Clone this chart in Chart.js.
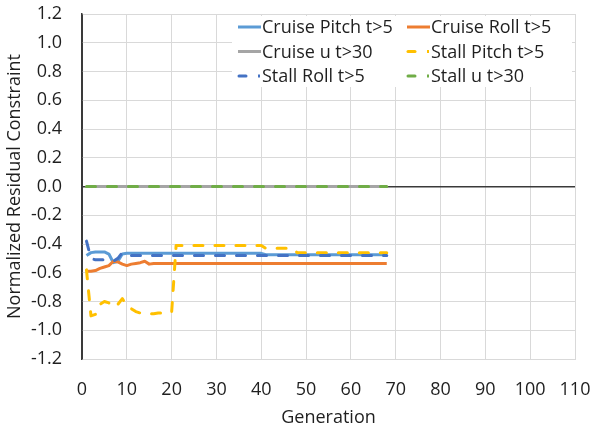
<!DOCTYPE html>
<html>
<head>
<meta charset="utf-8">
<script src="https://cdn.jsdelivr.net/npm/chart.js@4.4.1/dist/chart.umd.min.js"></script>
<style>
  html, body { margin: 0; padding: 0; background: #fff; }
  #wrap { width: 592px; height: 431px; }
</style>
</head>
<body>
<div id="wrap"><canvas id="mainChart" width="592" height="431"></canvas></div>
<script>
// ======================
// DATA
// ======================
const generations = [
  1, 2, 3, 4, 5, 6, 7, 8, 9, 10, 11, 12, 13, 14, 15, 16, 17, 18, 19, 20,
  21, 22, 23, 24, 25, 26, 27, 28, 29, 30, 31, 32, 33, 34, 35, 36, 37, 38, 39, 40,
  41, 42, 43, 44, 45, 46, 47, 48, 49, 50, 51, 52, 53, 54, 55, 56, 57, 58, 59, 60,
  61, 62, 63, 64, 65, 66, 67, 68
];

const seriesNames = [
  'Cruise Pitch t>5', 'Cruise Roll t>5', 'Cruise u t>30',
  'Stall Pitch t>5', 'Stall Roll t>5', 'Stall u t>30'
];

const cruisePitch = [
  -0.48, -0.46, -0.455, -0.455, -0.455, -0.47, -0.53, -0.52, -0.47, -0.465,
  -0.465, -0.465, -0.465, -0.465, -0.465, -0.465, -0.465, -0.465, -0.465, -0.465,
  -0.465, -0.465, -0.465, -0.465, -0.465, -0.465, -0.465, -0.465, -0.465, -0.465,
  -0.465, -0.465, -0.465, -0.465, -0.465, -0.465, -0.465, -0.465, -0.465, -0.465,
  -0.475, -0.475, -0.475, -0.475, -0.475, -0.475, -0.475, -0.475, -0.475, -0.475,
  -0.475, -0.475, -0.475, -0.475, -0.475, -0.475, -0.475, -0.475, -0.475, -0.475,
  -0.475, -0.475, -0.475, -0.475, -0.475, -0.475, -0.475, -0.475
];

const cruiseRoll = [
  -0.59, -0.59, -0.585, -0.57, -0.56, -0.55, -0.52, -0.525, -0.54, -0.55,
  -0.54, -0.535, -0.53, -0.52, -0.54, -0.535, -0.535, -0.535, -0.535, -0.535,
  -0.535, -0.535, -0.535, -0.535, -0.535, -0.535, -0.535, -0.535, -0.535, -0.535,
  -0.535, -0.535, -0.535, -0.535, -0.535, -0.535, -0.535, -0.535, -0.535, -0.535,
  -0.535, -0.535, -0.535, -0.535, -0.535, -0.535, -0.535, -0.535, -0.535, -0.535,
  -0.535, -0.535, -0.535, -0.535, -0.535, -0.535, -0.535, -0.535, -0.535, -0.535,
  -0.535, -0.535, -0.535, -0.535, -0.535, -0.535, -0.535, -0.535
];

const cruiseU = [
  0, 0, 0, 0, 0, 0, 0, 0, 0, 0, 0, 0, 0, 0, 0, 0, 0, 0, 0, 0,
  0, 0, 0, 0, 0, 0, 0, 0, 0, 0, 0, 0, 0, 0, 0, 0, 0, 0, 0, 0,
  0, 0, 0, 0, 0, 0, 0, 0, 0, 0, 0, 0, 0, 0, 0, 0, 0, 0, 0, 0,
  0, 0, 0, 0, 0, 0, 0, 0
];

const stallPitch = [
  -0.58, -0.90, -0.89, -0.82, -0.80, -0.81, -0.84, -0.82, -0.78, -0.83,
  -0.85, -0.87, -0.88, -0.88, -0.885, -0.885, -0.88, -0.88, -0.875, -0.875,
  -0.41, -0.41, -0.41, -0.41, -0.41, -0.41, -0.41, -0.41, -0.41, -0.41,
  -0.41, -0.41, -0.41, -0.41, -0.41, -0.41, -0.41, -0.41, -0.41, -0.41,
  -0.43, -0.43, -0.43, -0.43, -0.43, -0.43, -0.43, -0.46, -0.46, -0.46,
  -0.46, -0.46, -0.46, -0.46, -0.46, -0.46, -0.46, -0.46, -0.46, -0.46,
  -0.46, -0.46, -0.46, -0.46, -0.46, -0.46, -0.46, -0.46
];

const stallRoll = [
  -0.38, -0.50, -0.51, -0.51, -0.51, -0.51, -0.52, -0.50, -0.46, -0.475,
  -0.48, -0.48, -0.48, -0.48, -0.48, -0.48, -0.48, -0.48, -0.48, -0.48,
  -0.48, -0.48, -0.48, -0.48, -0.48, -0.48, -0.48, -0.48, -0.48, -0.48,
  -0.48, -0.48, -0.48, -0.48, -0.48, -0.48, -0.48, -0.48, -0.48, -0.48,
  -0.48, -0.48, -0.48, -0.48, -0.48, -0.48, -0.48, -0.48, -0.48, -0.48,
  -0.48, -0.48, -0.48, -0.48, -0.48, -0.48, -0.48, -0.48, -0.48, -0.48,
  -0.48, -0.48, -0.48, -0.48, -0.48, -0.48, -0.48, -0.48
];

const stallU = [
  0, 0, 0, 0, 0, 0, 0, 0, 0, 0, 0, 0, 0, 0, 0, 0, 0, 0, 0, 0,
  0, 0, 0, 0, 0, 0, 0, 0, 0, 0, 0, 0, 0, 0, 0, 0, 0, 0, 0, 0,
  0, 0, 0, 0, 0, 0, 0, 0, 0, 0, 0, 0, 0, 0, 0, 0, 0, 0, 0, 0,
  0, 0, 0, 0, 0, 0, 0, 0
];

// ======================
// STYLE
// ======================
const FONT = '"Open Sans"';
const FSIZE = 18;
const TEXT = '#1f1f1f';
const GRID = '#d9d9d9';
const AXIS = '#3a3a3a';

const colors = ['#5b9bd5', '#ed7d31', '#a5a5a5', '#ffc000', '#4472c4', '#70ad47'];
const dashed = [false, false, false, true, true, true];

function toPoints(values) {
  return values.map((v, i) => ({ x: generations[i], y: v }));
}

const allValues = [cruisePitch, cruiseRoll, cruiseU, stallPitch, stallRoll, stallU];

const datasets = allValues.map((vals, i) => ({
  label: seriesNames[i],
  data: toPoints(vals),
  borderColor: colors[i],
  borderWidth: 3,
  borderDash: dashed[i] ? [9, 12] : [],
  borderCapStyle: dashed[i] ? 'round' : 'butt',
  borderJoinStyle: 'round',
  pointRadius: 0,
  tension: 0,
  fill: false,
  order: allValues.length - i   // later series on top, like Excel
}));

// ======================
// LEGEND INSIDE PLOT
// ======================
const insideLegend = {
  id: 'insideLegend',
  afterDatasetsDraw(chart) {
    const ctx = chart.ctx;
    const area = chart.chartArea;
    const boxX = area.right - 343;
    const boxY = area.top + 2;

    ctx.save();
    ctx.fillStyle = '#fff';
    ctx.fillRect(boxX, boxY, 340, 71);

    ctx.font = FSIZE + 'px ' + FONT;
    ctx.textBaseline = 'middle';

    chart.data.datasets.forEach((ds, i) => {
      const col = i % 2;
      const row = Math.floor(i / 2);
      const sx = boxX + 6 + col * 169;
      const sy = boxY + 11 + row * 24.5;

      ctx.strokeStyle = ds.borderColor;
      ctx.lineWidth = 3;
      ctx.setLineDash([]);
      if (dashed[i]) {
        ctx.lineCap = 'round';
        ctx.beginPath();
        ctx.moveTo(sx + 1, sy);
        ctx.lineTo(sx + 8, sy);
        ctx.stroke();
        ctx.fillStyle = ds.borderColor;
        ctx.fillRect(sx + 20, sy - 1.5, 2, 3);
      } else {
        ctx.lineCap = 'butt';
        ctx.beginPath();
        ctx.moveTo(sx, sy);
        ctx.lineTo(sx + 23, sy);
        ctx.stroke();
      }
      ctx.fillStyle = TEXT;
      ctx.fillText(ds.label, sx + 24, sy + 1);
    });
    ctx.restore();
  }
};

// ======================
// CHART
// ======================
const isZero = v => Math.abs(v) < 1e-9;

new Chart(document.getElementById('mainChart'), {
  type: 'line',
  data: { datasets },
  plugins: [insideLegend],
  options: {
    responsive: false,
    animation: false,
    layout: { padding: { top: 14, right: 17, left: 0, bottom: 0 } },
    plugins: {
      legend: { display: false },
      tooltip: { enabled: false }
    },
    scales: {
      x: {
        type: 'linear',
        min: 0,
        max: 110,
        ticks: {
          stepSize: 10,
          autoSkip: false,
          maxRotation: 0,
          padding: 20,
          color: TEXT,
          font: { family: FONT, size: FSIZE }
        },
        grid: {
          color: ctx => isZero(ctx.tick.value) ? AXIS : GRID,
          drawTicks: false
        },
        border: { color: GRID },
        title: {
          display: true,
          text: 'Generation',
          color: TEXT,
          font: { family: FONT, size: FSIZE },
          padding: 2
        },
        afterFit: s => {
          s.height = 72;
          s.paddingLeft = 0;
          s.paddingRight = 0;
        }
      },
      y: {
        min: -1.2,
        max: 1.2,
        ticks: {
          stepSize: 0.2,
          autoSkip: false,
          padding: 20,
          color: TEXT,
          font: { family: FONT, size: FSIZE },
          callback: v => isZero(v) ? '0.0' : Number(v).toFixed(1)
        },
        grid: {
          color: ctx => isZero(ctx.tick.value) ? AXIS : GRID,
          lineWidth: ctx => isZero(ctx.tick.value) ? 1.5 : 1,
          drawTicks: false
        },
        border: { color: AXIS, width: 1.5 },
        title: {
          display: true,
          text: 'Normalized Residual Constraint',
          color: TEXT,
          font: { family: FONT, size: FSIZE },
          padding: 4
        },
        afterFit: s => {
          s.width = 82;
          s.paddingTop = 0;
          s.paddingBottom = 0;
        }
      }
    }
  }
});
</script>
</body>
</html>
